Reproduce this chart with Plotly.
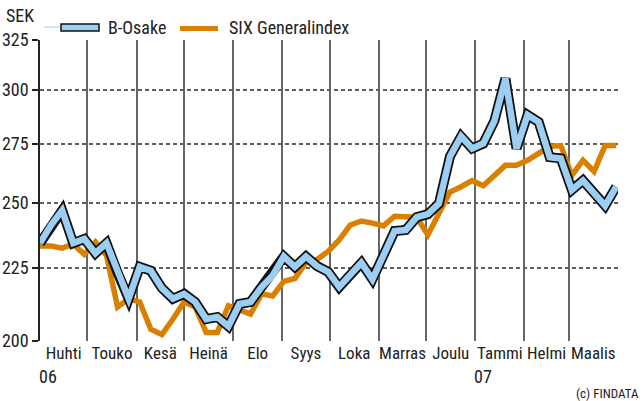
import pandas as pd
import plotly.graph_objects as go

# ---------------- data ----------------
dates = pd.date_range("2006-04-01", periods=53, freq="7D")

b_osake = [234.2, 241.1, 246.9, 234.2, 235.8, 230.4, 234.2, 223.3, 214.1, 225.4,
           224.0, 217.8, 214.1, 215.8, 213.0, 207.2, 207.9, 204.8, 212.3, 213.0,
           218.2, 222.3, 229.2, 225.4, 229.2, 225.7, 223.6, 218.2, 222.3, 226.9,
           220.9, 229.2, 238.8, 239.2, 244.2, 245.4, 249.6, 269.4, 278.2, 272.8,
           275.0, 285.2, 305.4, 272.8, 288.0, 284.7, 269.0, 268.5, 255.2, 259.1,
           253.9, 248.8, 256.5]

six_general = [233.1, 233.1, 232.3, 233.8, 230.0, 234.6, 229.6, 211.3, 214.1, 213.0,
               203.8, 202.1, 207.2, 213.0, 211.3, 202.8, 202.8, 211.7, 210.3, 208.9,
               215.8, 215.1, 220.2, 221.2, 226.9, 228.1, 231.1, 235.4, 241.1, 242.7,
               241.9, 240.8, 244.6, 244.6, 244.2, 237.3, 245.4, 254.3, 256.5, 259.1,
               256.9, 261.2, 265.5, 265.5, 267.7, 270.7, 273.7, 274.1, 261.2, 267.7,
               262.9, 274.1, 274.1]

month_labels = ["Huhti", "Touko", "Kesä", "Heinä", "Elo", "Syys",
                "Loka", "Marras", "Joulu", "Tammi", "Helmi", "Maalis"]
year_labels = ["06", "07"]
year_dates = ["2006-04-01", "2007-01-01"]
y_ticks = [200, 225, 250, 275, 300, 325]

series_names = ["B-Osake", "SIX Generalindex"]

# ---------------- styling ----------------
BLUE = "#9CCDF2"
ORANGE = "#D98000"
OUTLINE = "#111111"
GRID = "#5f5f5f"
VGRID = "#666666"
TEXT = "#222222"
FONT = "Liberation Sans Narrow, Arial Narrow, Roboto Condensed, Liberation Sans, Arial, sans-serif"

month_starts = pd.date_range("2006-04-01", periods=12, freq="MS")
month_mids = [d + pd.Timedelta(days=d.days_in_month / 2) for d in month_starts]
grid_dates = list(pd.date_range("2006-04-01", periods=13, freq="MS"))

fig = go.Figure()

fig.add_trace(go.Scatter(x=dates, y=six_general, mode="lines", name=series_names[1],
                         line=dict(color=ORANGE, width=5.5), showlegend=False))
fig.add_trace(go.Scatter(x=dates, y=b_osake, mode="lines", name=series_names[0] + " outline",
                         line=dict(color=OUTLINE, width=10), showlegend=False, hoverinfo="skip"))
fig.add_trace(go.Scatter(x=dates, y=b_osake, mode="lines", name=series_names[0],
                         line=dict(color=BLUE, width=6.5), showlegend=False))

# ----- manual legend (paper coords) -----
def px_x(p):
    return (p - 40) / 578.0

def px_y(p):
    return (341 - p) / 301.0

shapes = [
    dict(type="line", xref="paper", yref="paper", x0=px_x(44), x1=px_x(60),
         y0=px_y(27), y1=px_y(27), line=dict(color=BLUE, width=1)),
    dict(type="rect", xref="paper", yref="paper", x0=px_x(61), x1=px_x(99),
         y0=px_y(31), y1=px_y(24), fillcolor=BLUE, line=dict(color=OUTLINE, width=1.5)),
    dict(type="line", xref="paper", yref="paper", x0=px_x(180), x1=px_x(218),
         y0=px_y(28.5), y1=px_y(28.5), line=dict(color=ORANGE, width=5)),
]

annotations = [
    dict(text=series_names[0], xref="paper", yref="paper", x=px_x(106), y=px_y(27),
         xanchor="left", yanchor="middle", showarrow=False, font=dict(size=18, color=TEXT)),
    dict(text=series_names[1], xref="paper", yref="paper", x=px_x(227), y=px_y(27),
         xanchor="left", yanchor="middle", showarrow=False, font=dict(size=18, color=TEXT)),
    dict(text="SEK", xref="paper", yref="paper", x=px_x(4), y=px_y(16),
         xanchor="left", yanchor="middle", showarrow=False, font=dict(size=18, color=TEXT)),
    dict(text="(c) FINDATA", xref="paper", yref="paper", x=px_x(641), y=px_y(393),
         xanchor="right", yanchor="middle", showarrow=False, font=dict(size=13, color=TEXT)),
]
for lbl, d in zip(year_labels, year_dates):
    annotations.append(dict(text=lbl, xref="x", yref="paper", x=d, y=px_y(377),
                            xanchor="left", yanchor="middle", showarrow=False,
                            xshift=-3, font=dict(size=18, color=TEXT)))

fig.update_layout(
    width=643, height=401, autosize=False,
    margin=dict(l=40, r=25, t=40, b=60, autoexpand=False),
    paper_bgcolor="white", plot_bgcolor="white",
    font=dict(family=FONT, size=18, color=TEXT),
    showlegend=False,
    shapes=shapes,
    annotations=annotations,
    xaxis=dict(
        type="date",
        range=["2006-04-01", "2007-04-01 03:00"],
        tickmode="array", tickvals=month_mids, ticktext=month_labels,
        tickangle=0, automargin=False,
        ticks="", showgrid=False, showline=False, zeroline=False,
        tickfont=dict(size=17, color=TEXT),
        minor=dict(tickmode="array", tickvals=grid_dates,
                   showgrid=True, gridcolor=VGRID, gridwidth=1.5, ticks=""),
    ),
    yaxis=dict(
        type="log",
        range=[2.30103, 2.5118834],
        tickmode="array", tickvals=y_ticks, ticktext=[str(v) for v in y_ticks],
        ticks="outside", ticklen=6, tickwidth=1.5, tickcolor="#222222",
        showline=True, linecolor="#222222", linewidth=1.5, automargin=False,
        showgrid=True, gridcolor=GRID, gridwidth=1.5, griddash="4px,3px",
        zeroline=False,
        tickfont=dict(size=18, color=TEXT),
    ),
)

fig.write_html(
    "out.html",
    config={"displayModeBar": False},
    post_script=(
        "document.body.style.margin='0';document.body.style.padding='0';"
        "document.querySelectorAll('.js-line').forEach(function(e){"
        "e.style.strokeLinejoin='miter';e.style.strokeMiterlimit='4';});"
    ),
)
